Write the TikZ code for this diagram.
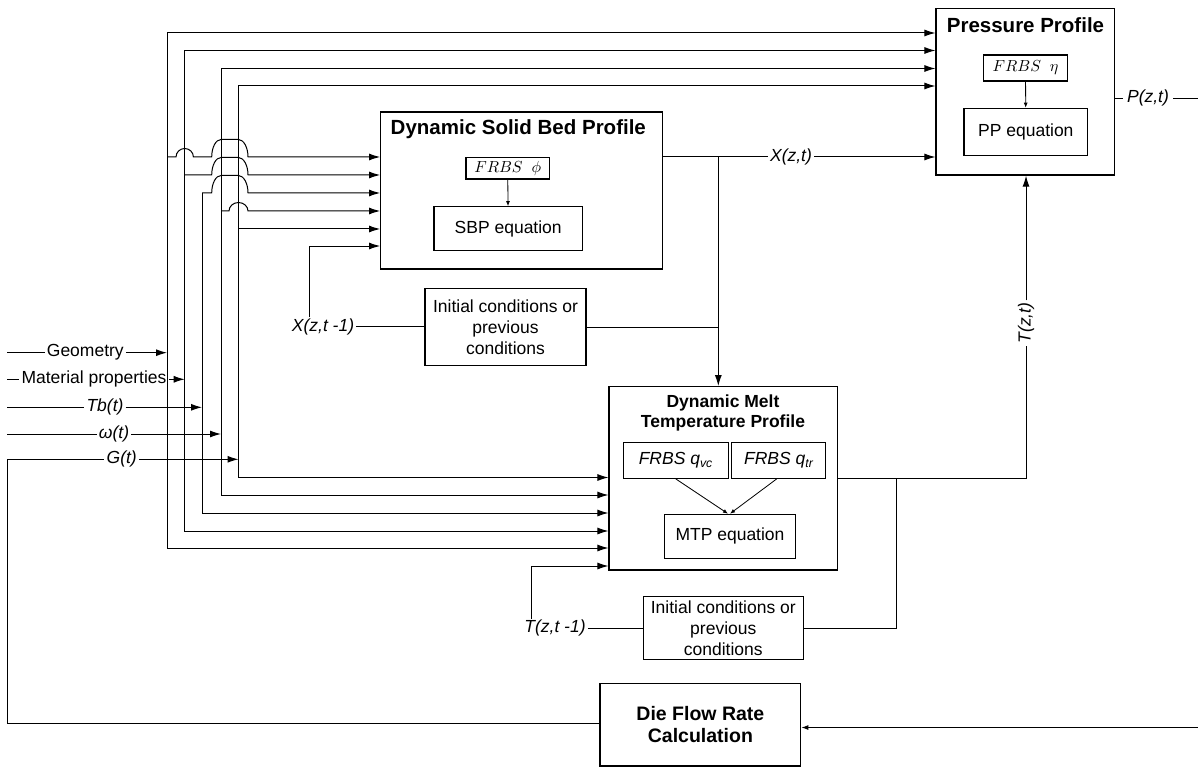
\documentclass[tikz,border=0pt]{standalone}
\usepackage{graphicx}
\usepackage{fontspec}
\setmainfont{Liberation Sans}
\usetikzlibrary{arrows.meta}
\newcommand{\myreg}{\fontsize{17.5}{21}\selectfont}
\newcommand{\mybig}{\fontsize{20.5}{24}\selectfont\bfseries}
\newcommand{\mymtp}{\fontsize{17.5}{20.6}\selectfont\bfseries}
\newcommand{\mydie}{\fontsize{19.5}{22.6}\selectfont\bfseries}
\newcommand{\hopS}[3]{.. controls (#1-#3,#2-4.7) and (#1-0.552*#3,#2-8.5) .. (#1,#2-8.5) .. controls (#1+0.552*#3,#2-8.5) and (#1+#3,#2-4.7) .. (#1+#3,#2)}
\newcommand{\hopW}[1]{.. controls (211.7,#1-9.7) and (215.9,#1-17.5) .. (221,#1-17.5) -- (238.5,#1-17.5) .. controls (243.6,#1-17.5) and (248,#1-9.7) .. (248,#1)}
\begin{document}
\begin{tikzpicture}[x=1pt,y=-1pt,
  ln/.style={line width=1pt,black,line join=miter},
  arr/.style={ln,-{Latex[length=11pt,width=7pt]}},
  darr/.style={ln,{Latex[length=11pt,width=7pt]}-{Latex[length=11pt,width=7pt]}},
  sarr/.style={ln,line width=0.8pt,-{Latex[length=5pt,width=4pt]}},
  box/.style 2 args={draw,line width=1.2pt,minimum width=#1pt,minimum height=#2pt,inner sep=0pt,align=center,font=\myreg},
  lab/.style={fill=white,inner xsep=2pt,inner ysep=1pt,font=\myreg},
  ilab/.style={lab,font=\myreg\itshape}]
\useasboundingbox (0,0) rectangle (1198,767);

% ---------- boxes ----------
\node[box={282}{157}] (sb) at (521.7,190.5) {};
\node[font=\mybig] (sbt) at (518.3,129) {Dynamic Solid Bed Profile};
\node[box={83.3}{21.3},font=\normalsize] (frbsphi) at (507.7,168.3) {\scalebox{1.6}{$FRBS\;\;\phi$}};
\node[box={148.3}{44}] (sbp) at (508.2,228.7) {SBP equation};

\node[box={178.3}{166.7}] (pp) at (1025.2,91.7) {};
\node[font=\mybig] (ppt) at (1025.5,25) {Pressure Profile};
\node[box={84.4}{26},font=\normalsize] (frbseta) at (1025.5,68) {\scalebox{1.6}{$FRBS\;\;\eta$}};
\node[box={123.7}{47.4}] (ppeq) at (1025.8,132) {PP equation};

\node[box={228.3}{183.3}] (mtp) at (723.2,478.3) {};
\node[font=\mymtp,align=center] (mtpt) at (723,413) {Dynamic Melt\\Temperature Profile};
\node[box={105}{36},font=\myreg\itshape] (qvc) at (675.8,460.3) {FRBS q\textsubscript{vc}};
\node[box={94}{36},font=\myreg\itshape] (qtr) at (778.7,460.3) {FRBS q\textsubscript{tr}};
\node[box={131.4}{44}] (mtpeq) at (730,536.3) {MTP equation};

\node[box={161}{77.4}] (init1) at (505.5,327) {Initial conditions or\\previous\\conditions};
\node[box={160}{62.6}] (init2) at (723.3,628) {Initial conditions or\\previous\\conditions};
\node[box={200.7}{82.7},font=\mydie] (die) at (700.4,724.7) {Die Flow Rate\\Calculation};

% ---------- inner arrows ----------
\draw[sarr] (frbsphi) -- (sbp);
\draw[sarr] (frbseta) -- (ppeq);
\draw[sarr] (qvc.south) -- ([xshift=-2pt]mtpeq.north);
\draw[sarr] ([xshift=-2pt]qtr.south) -- ([xshift=0pt]mtpeq.north);

% ---------- input labels ----------
\node[lab] (lgeo) at (85.3,352.7) {Geometry};
\node[lab] (lmat) at (94,379.3) {Material properties};
\node[ilab] (ltb) at (105,407.3) {Tb(t)};
\node[ilab] (lom) at (114,434) {ω(t)};
\node[ilab] (lg) at (121.7,459.3) {G(t)};
\draw[ln] (7,352.7) -- (lgeo); \draw[arr] (lgeo) -- (167,352.7);
\draw[ln] (7,379.3) -- (lmat); \draw[arr] (lmat) -- (184.7,379.3);
\draw[ln] (7,407.3) -- (ltb); \draw[arr] (ltb) -- (202,407.3);
\draw[ln] (7,434) -- (lom); \draw[arr] (lom) -- (221,434);
\draw[ln] (die.west|-0,723.5) -- (7,723.5) -- (7,459.3) -- (lg);
\draw[arr] (lg) -- (238.5,459.3);
\draw[ln,-{Latex[length=7pt,width=5pt]}] (1198,727.5) -- (die.east|-0,727.5);

% ---------- buses ----------
\draw[darr] (pp.west|-0,33) -- (167,33) -- (167,548) -- (mtp.west|-0,548);
\draw[darr] (pp.west|-0,50.5) -- (184.7,50.5) -- (184.7,531) -- (mtp.west|-0,531);
\draw[arr] (202,193) -- (202,513) -- (mtp.west|-0,513);
\draw[darr] (pp.west|-0,68.5) -- (221,68.5) -- (221,495) -- (mtp.west|-0,495);
\draw[darr] (pp.west|-0,86) -- (238.5,86) -- (238.5,477.5) -- (mtp.west|-0,477.5);

% ---------- branches into solid bed ----------
\draw[arr] (167,157) -- (176,157) \hopS{184.7}{157}{8.7} -- (211.7,157) \hopW{157} -- (sb.west|-0,157);
\draw[arr] (184.7,175) -- (211.7,175) \hopW{175} -- (sb.west|-0,175);
\draw[arr] (202,193) -- (211.7,193) \hopW{193} -- (sb.west|-0,193);
\draw[arr] (221,211) -- (229,211) \hopS{238.5}{211}{9.5} -- (sb.west|-0,211);
\draw[arr] (238.5,229) -- (sb.west|-0,229);

% ---------- X(z,t-1) ----------
\node[ilab] (lxp) at (323,326.7) {X(z,t -1)};
\draw[ln] (lxp) -- (init1.west|-0,326.7);
\draw[arr] (lxp.north-|309.3,0) -- (309.3,246) -- (sb.west|-0,246);

% ---------- X(z,t) ----------
\node[ilab] (lx) at (791,157) {X(z,t)};
\draw[ln] (sb.east|-0,157) -- (lx);
\draw[arr] (lx) -- (pp.west|-0,157);
\draw[arr] (718.3,157) -- (mtp.north-|718.3,0);
\draw[ln] (init1.east) -- (718.3,327);

% ---------- P(z,t) ----------
\node[ilab,inner xsep=4pt] (lp) at (1148,98.3) {P(z,t)};
\draw[ln] (pp.east|-0,98.3) -- (lp) -- (1198,98.3);

% ---------- T(z,t) ----------
\node[ilab,rotate=90] (lt) at (1026,323) {T(z,t)};
\draw[ln] (mtp.east|-0,478.3) -- (1026,478.3) -- (lt);
\draw[arr] (lt) -- (pp.south-|1026,0);
\draw[ln] (896,478.3) -- (896,628) -- (init2.east);

% ---------- T(z,t-1) ----------
\node[ilab] (ltp) at (555,628.3) {T(z,t -1)};
\draw[ln] (ltp) -- (init2.west|-0,628.3);
\draw[arr] (ltp.north-|531.7,0) -- (531.7,566) -- (mtp.west|-0,566);
\end{tikzpicture}
\end{document}
